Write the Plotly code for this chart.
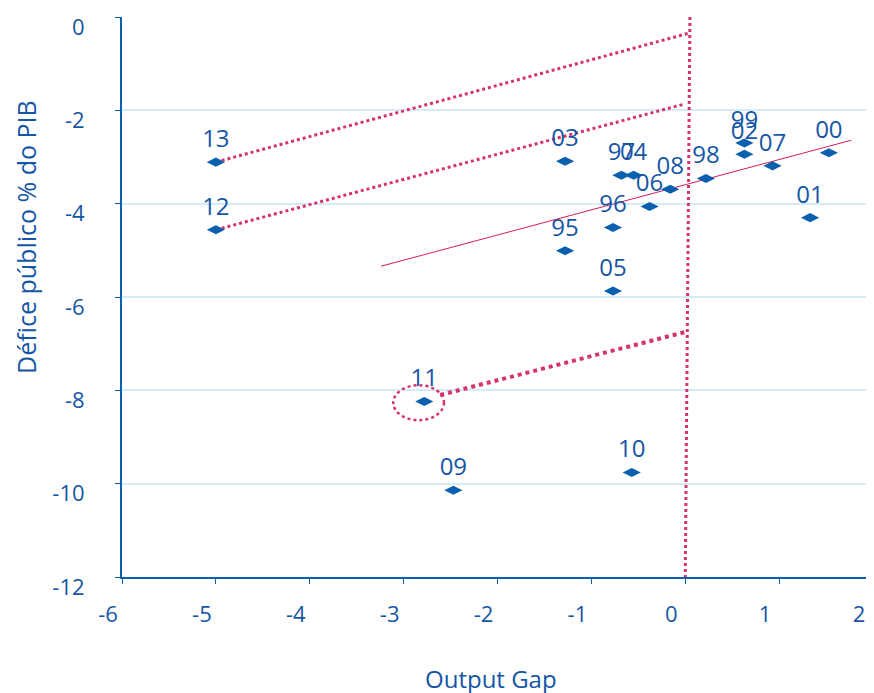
import plotly.graph_objects as go

# Data points: output gap (x), public deficit % GDP (y), year labels
labels = ["95", "96", "97", "98", "99", "00", "01", "02", "03", "04",
          "05", "06", "07", "08", "09", "10", "11", "12", "13"]
output_gap = [-1.28, -0.77, -0.68, 0.22, 0.63, 1.53, 1.33, 0.63, -1.28, -0.55,
              -0.77, -0.38, 0.93, -0.16, -2.47, -0.57, -2.78, -5.0, -5.0]
deficit = [-5.01, -4.51, -3.39, -3.46, -2.70, -2.91, -4.30, -2.94, -3.09, -3.39,
           -5.87, -4.06, -3.19, -3.69, -10.14, -9.76, -8.24, -4.56, -3.11]

# Trend line (regression)
trend_x = [-3.24, 1.77]
trend_y = [-5.34, -2.64]

# Dotted projection lines
proj13_x = [-5.0, 0.05]
proj13_y = [-3.11, -0.34]
proj12_x = [-5.0, 0.0]
proj12_y = [-4.56, -1.86]
proj11_x = [-2.61, 0.0]
proj11_y = [-8.10, -6.75]
vline_x = [0.05, 0.0]
vline_y = [0.0, -12.0]
circle_x = [-3.11, -2.57]
circle_y = [-8.64, -7.89]

x_ticks = [-6, -5, -4, -3, -2, -1, 0, 1, 2]
y_ticks = [0, -2, -4, -6, -8, -10, -12]

BLUE = "#0a5fae"
TEXT = "#1556a5"
PINK = "#d6336e"
FONT = "Open Sans"

fig = go.Figure()

fig.add_trace(go.Scatter(x=trend_x, y=trend_y, mode="lines",
                         line=dict(color="#d21e5a", width=1), hoverinfo="skip"))
for xs, ys, w in [(proj13_x, proj13_y, 3), (proj12_x, proj12_y, 3),
                  (proj11_x, proj11_y, 4), (vline_x, vline_y, 3)]:
    fig.add_trace(go.Scatter(x=xs, y=ys, mode="lines",
                             line=dict(color=PINK, width=w, dash="dot"),
                             hoverinfo="skip"))

fig.add_trace(go.Scatter(
    x=output_gap, y=deficit, mode="markers+text", text=labels,
    textposition="top center",
    textfont=dict(family=FONT, size=24, color=TEXT, weight=500),
    marker=dict(symbol="diamond-wide", size=13, color=BLUE)))

fig.add_shape(type="circle", xref="x", yref="y",
              x0=circle_x[0], x1=circle_x[1], y0=circle_y[0], y1=circle_y[1],
              line=dict(color=PINK, width=2.5, dash="dot"))

fig.add_annotation(text="Output Gap", xref="paper", yref="paper",
                   x=0.491, y=-0.182, yanchor="middle", showarrow=False,
                   font=dict(family=FONT, size=24, color=TEXT, weight=500))
fig.add_annotation(text="Défice público % do PIB", xref="paper", yref="paper",
                   x=-0.128, y=0.607, textangle=-90, showarrow=False,
                   xanchor="center", yanchor="middle",
                   font=dict(family=FONT, size=25, color=TEXT, weight=500))

# The page body adds an 8px offset; compensate in size and margins.
fig.update_layout(
    width=866, height=685,
    margin=dict(l=114, r=1, t=9, b=116),
    plot_bgcolor="white", paper_bgcolor="white",
    showlegend=False,
    font=dict(family=FONT, color=TEXT),
    xaxis=dict(range=[-6, 2], tickvals=x_ticks,
               ticktext=[str(v) for v in x_ticks],
               showgrid=False, zeroline=False, automargin=False,
               showline=True, linecolor=BLUE, linewidth=2,
               ticks="outside", ticklen=5, tickcolor=BLUE,
               ticklabelstandoff=12, ticklabelshift=-14,
               tickfont=dict(family=FONT, size=22, color=TEXT, weight=500)),
    yaxis=dict(range=[-12, 0], tickvals=y_ticks,
               ticktext=[str(v) for v in y_ticks],
               showgrid=True, automargin=False,
               gridcolor="#d4ecf8", gridwidth=1.5, zeroline=False,
               showline=True, linecolor=BLUE, linewidth=2,
               ticks="outside", ticklen=5, tickcolor=BLUE,
               ticklabelstandoff=26, ticklabelshift=10,
               tickfont=dict(family=FONT, size=22, color=TEXT, weight=500)),
)

fig.write_html("out.html")
